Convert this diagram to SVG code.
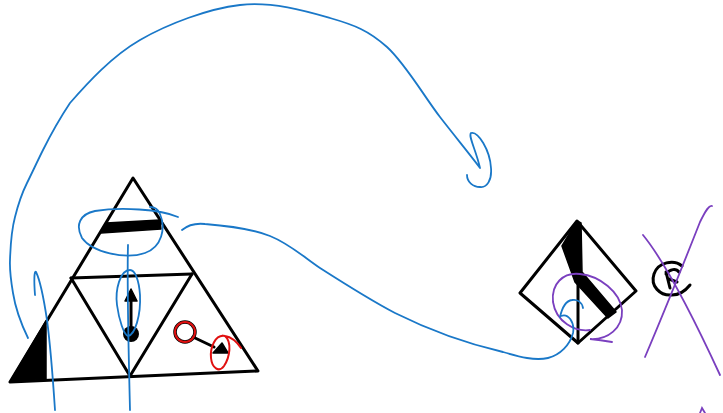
<svg xmlns="http://www.w3.org/2000/svg" width="723" height="413" viewBox="0 0 723 413">
<style>
.k{fill:none;stroke:#000;stroke-width:3;stroke-linejoin:round;stroke-linecap:round}
.kf{fill:#000;stroke:#000;stroke-width:1.5;stroke-linejoin:round}
.b{fill:none;stroke:#1a78c8;stroke-width:1.8;stroke-linecap:round;stroke-linejoin:round}
.r{fill:none;stroke:#e01010;stroke-width:2;stroke-linecap:round}
.p{fill:none;stroke:#7a3fbf;stroke-width:1.8;stroke-linecap:round}
</style>
<rect width="723" height="413" fill="#fff"/>
<g id="triangle">
  <path class="k" d="M133,178 L10,382 L258,371 Z"/>
  <path class="k" d="M71,278 L192,274"/>
  <path class="k" d="M71,278 L130,376 L192,274"/>
  <path class="kf" d="M10,382 L46,321 L46,379 Z"/>
  <path class="kf" d="M106,223 L160,220 L161,229 L101,233 Z"/>
  <circle cx="131" cy="334" r="8" fill="#000"/>
  <path class="k" d="M131,334 L131,300"/>
  <path class="kf" d="M131,289 L137,301 L125,301 Z"/>
  <circle cx="185" cy="332" r="10" fill="none" stroke="#000" stroke-width="3.5"/>
  <path class="k" d="M193,337 L214,347" stroke-width="2.5"/>
  <path class="kf" d="M213,353 L222,343 L228,353 Z"/>
</g>
<g id="red-marks">
  <circle cx="185" cy="332" r="10" fill="none" stroke="#e01010" stroke-width="2"/>
  <path class="r" d="M225,336 C215,334 210,348 211,358 C212,368 219,373 224,366 C230,357 232,342 225,336 C231,337 237,342 241,348"/>
</g>
<g id="diamond">
  <path class="k" d="M577,221 L520,293 L578,343 L636,291 Z"/>
  <path class="kf" d="M577,221 L562,246 L575,282 L608,318 L616,312 L582,272 L581,223 Z"/>
  <path class="k" d="M578,272 L578,343"/>
  <path class="p" d="M590,330 C575,332 556,322 553,302 C551,284 563,272 580,274 C600,276 620,292 622,310 C623,328 608,340 590,339 C600,340 606,341 612,342"/>
</g>
<g id="crossed-symbol">
  <path class="k" d="M682,266 C674,259 658,262 654,274 C650,286 660,296 672,295 C680,295 686,290 690,285"/>
  <path class="k" d="M666,272 L670,288 M666,274 C670,269 676,268 679,272 M669,279 L677,282" stroke-width="3.5"/>
  <path class="p" d="M643,235 C665,262 690,310 720,375"/>
  <path class="p" d="M712,206 C709,205 706,210 700,222 C685,260 665,310 645,357"/>
  <path class="p" d="M700,413 L702,408 L705,413"/>
</g>
<g id="connectors">
  <path class="b" d="M28,338 C24.5,330.8 16,312 13,293 C10,275 9.5,270 10,260 C10.5,245 11.5,230 15,217 C18,205 22,193 27,183 C32,173 37,162 43,150 C50,136 60,118 70,103 C87.5,83 111.7,56.3 140,40 C168.3,23.7 208.3,8.7 240,5 C271.7,1.3 305.5,11 330,18 C354.5,25 368.7,30.5 387,47 C405.3,63.5 424.5,97 440,117 C455.5,137 473.3,158.7 480,168 C476,150 468,136 471,133 C478,131 490,150 491,168 C492,180 487,188 480,187 C473,187 467,182 467,175"/>
  <path class="b" d="M35,295 C34,282 34,270 36,272 C40,280 44,300 47,320 C51,350 53,380 55,410"/>
  <path class="b" d="M178,217 C160,209 120,207 95,211 C80,214 75,225 82,238 C92,252 125,260 145,253 C162,247 166,228 160,214 C158,209 154,207 150,207"/>
  <path class="b" d="M128,245 C127,280 128,330 130,410"/>
  <path class="b" d="M130,270 C120,270 115,290 117,305 C119,320 124,335 128,336 C135,335 141,315 140,295 C139,280 135,270 130,270"/>
  <path class="b" d="M182,230 C188,225 196,223 205,224 C230,226 255,230 270,236 C290,244 305,258 320,268 C345,284 370,300 395,313 C425,328 460,342 503,352 C520,357 535,361 548,358 C560,355 570,345 573,333 C575,322 568,313 561,316 M560,317 C562,308 565,301 572,300 C577,299 582,302 583,308"/>
</g>
</svg>
